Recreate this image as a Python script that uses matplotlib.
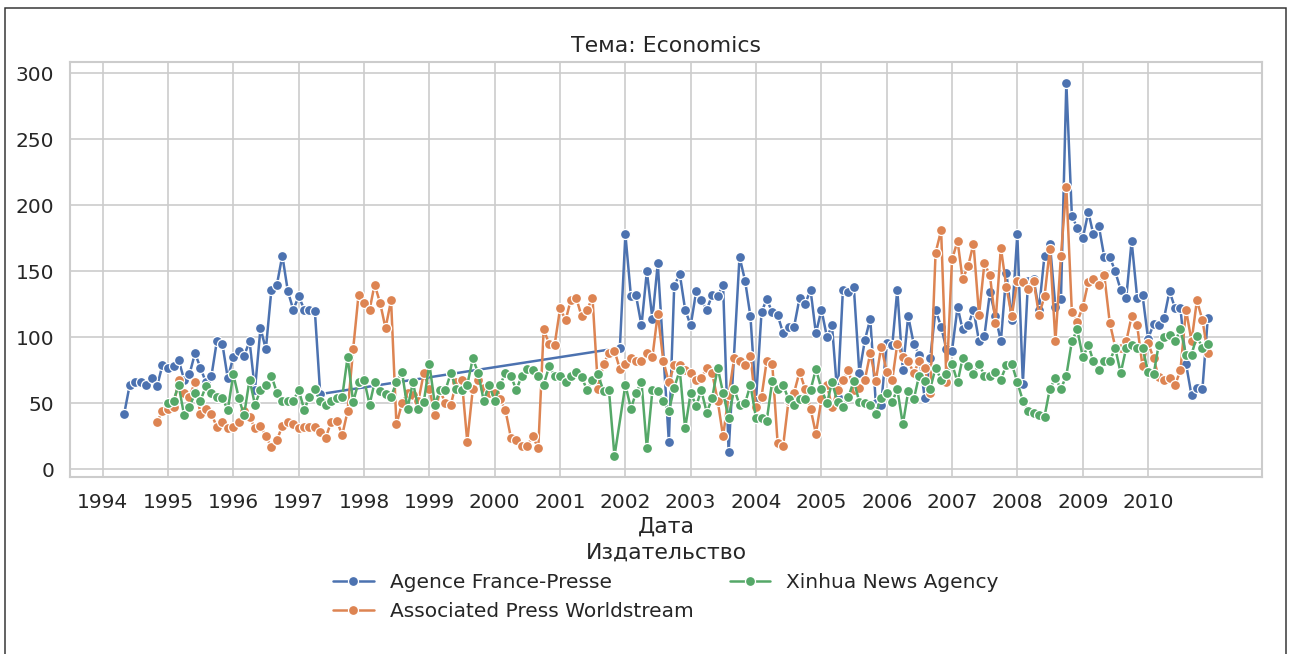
import numpy as np
import pandas as pd
import matplotlib
matplotlib.use("Agg")
import matplotlib.pyplot as plt
import matplotlib.dates as mdates
from matplotlib.patches import Rectangle
import seaborn as sns

# ---------------- data (monthly counts) ----------------
publishers = ["Agence France-Presse", "Associated Press Worldstream", "Xinhua News Agency"]

afp_start_a = "1994-05"
afp_values_a = [42, 64, 66, 66, 64, 69, 63, 79,
                77, 78, 83, 68, 72, 88, 77, 66, 71, 97, 95, 69,
                85, 90, 86, 97, 60, 107, 91, 136, 140, 162, 135, 121,
                131, 121, 121, 120, 57]
afp_start_b = "2001-12"
afp_values_b = [92,
                178, 131, 132, 109, 150, 114, 156, None, 21, 139, 148, 121,
                109, 135, 128, 121, 132, 131, 140, 13, None, 161, 143, 116,
                52, 119, 129, 119, 117, 103, 108, 108, 130, 125, 136, 103,
                121, 100, 109, 55, 136, 134, 138, 73, 98, 114, 50, 49,
                96, 94, 136, 75, 116, 95, 87, 54, 84, 121, 108, 91,
                90, 123, 106, 109, 121, 97, 101, 134, 116, 97, 149, 113,
                178, 65, 143, 144, 121, 162, 171, 123, 129, 293, 192, 183,
                175, 195, 178, 184, 161, 161, 150, 136, 130, 173, 130, 132,
                99, 110, 109, 115, 135, 122, 122, 80, 56, 62, 61, 115]

ap_start = "1994-11"
ap_values = [36, 44,
             46, 47, 68, 58, 55, 66, 42, 46, 42, 32, 36, 31,
             32, 36, 44, 40, 31, 33, 25, 17, 22, 33, 36, 34,
             31, 32, 32, 32, 28, 24, 36, 37, 26, 44, 91, 132,
             126, 121, 140, 126, 107, 128, 34, 50, 58, 56, 52, 73,
             61, 41, 60, 50, 49, 66, 68, 21, 61, 68, 62, 58,
             58, 53, 45, 24, 22, 18, 18, 25, 16, 106, 95, 94,
             122, 113, 128, 130, 116, 121, 130, 61, 80, 88, 90, 76,
             80, 84, 82, 82, 88, 85, 118, 82, 66, 79, 79, 75,
             73, 68, 69, 77, 73, 52, 25, 56, 84, 82, 79, 86,
             47, 55, 82, 80, 20, 18, 52, 58, 74, 61, 46, 27,
             53, 64, 47, 60, 68, 75, 60, 62, 68, 88, 67, 93,
             74, 68, 95, 85, 82, 73, 82, 77, 58, 164, 181, 66,
             159, 173, 144, 154, 171, 117, 156, 147, 111, 168, 138, 116,
             143, 142, 137, 143, 117, 131, 167, 97, 162, 214, 119, 112,
             123, 142, 144, 140, 147, 111, 93, 92, 97, 116, 109, 78,
             96, 84, 70, 68, 69, 64, 75, 121, 97, 128, 113, 88]

xinhua_start = "1995-01"
xinhua_values = [50, 52, 64, 41, 47, 58, 52, 63, 58, 55, 54, 45,
                 72, 54, 41, 68, 49, 60, 64, 71, 58, 52, 52, 52,
                 60, 45, 55, 61, 52, 49, 52, 54, 55, 85, 51, 66,
                 68, 49, 66, 59, 57, 55, 66, 74, 46, 66, 46, 51,
                 80, 49, 60, 60, 73, 61, 60, 64, 84, 73, 52, 64,
                 52, 64, 73, 71, 60, 71, 76, 75, 71, 64, 78, 71,
                 71, 66, 71, 74, 70, 60, 68, 72, 59, 60, 10, None,
                 64, 46, 58, 66, 16, 60, 59, 52, 44, 62, 75, 31,
                 58, 48, 60, 43, 54, 77, 58, 39, 61, 49, 50, 64,
                 39, 39, 37, 67, 61, 64, 53, 49, 53, 53, 60, 76,
                 61, 50, 66, 51, 47, 55, 67, 51, 50, 49, 42, 54,
                 58, 51, 61, 34, 59, 53, 71, 67, 61, 77, 68, 72,
                 80, 66, 84, 78, 72, 80, 71, 71, 74, 68, 79, 80,
                 66, 52, 44, 43, 41, 40, 61, 69, 61, 71, 97, 106,
                 85, 94, 82, 75, 82, 82, 92, 73, 92, 94, 92, 92,
                 74, 72, 94, 100, 102, 97, 106, 87, 87, 101, 92, 95]

tick_years = list(range(1994, 2011))


def block(name, start, values):
    dates = pd.date_range(start=start, periods=len(values), freq="MS")
    df = pd.DataFrame({"Дата": dates, "count": values, "Издательство": name})
    return df.dropna()


df = pd.concat([
    block(publishers[0], afp_start_a, afp_values_a),
    block(publishers[0], afp_start_b, afp_values_b),
    block(publishers[1], ap_start, ap_values),
    block(publishers[2], xinhua_start, xinhua_values),
], ignore_index=True)
df["count"] = df["count"].astype(float)

# ---------------- plot ----------------
sns.set_theme(style="whitegrid", font_scale=1.1)
plt.rcParams["font.family"] = ["DejaVu Sans"]

W, H, DPI = 1290, 654, 120
fig = plt.figure(figsize=(W / DPI, H / DPI), dpi=DPI)
ax = fig.add_axes([70 / W, 1 - 477 / H, (1262 - 70) / W, (477 - 62) / H])

sns.lineplot(data=df, x="Дата", y="count", hue="Издательство",
             hue_order=publishers, marker="o", ax=ax, estimator=None)

ax.set_title("Тема: Economics", pad=6)
ax.set_xlabel("Дата", labelpad=3)
ax.set_ylabel("")
ax.set_ylim(-5.8, 308.6)
ax.set_yticks([0, 50, 100, 150, 200, 250, 300])
ax.set_xticks([pd.Timestamp(f"{y}-01-01") for y in tick_years])
ax.xaxis.set_major_formatter(mdates.DateFormatter("%Y"))

sns.move_legend(ax, "upper center", bbox_to_anchor=(0.5, -0.125), ncol=2,
                frameon=False, title="Издательство", labelspacing=0.5,
                borderpad=0.2, columnspacing=1.8)

fig.add_artist(Rectangle((5 / W, -0.05), (1286 - 5) / W, 1.05 - 8 / H,
                         transform=fig.transFigure, fill=False,
                         edgecolor="#333333", linewidth=0.9, clip_on=False))

fig.savefig("out.png", dpi=DPI)
